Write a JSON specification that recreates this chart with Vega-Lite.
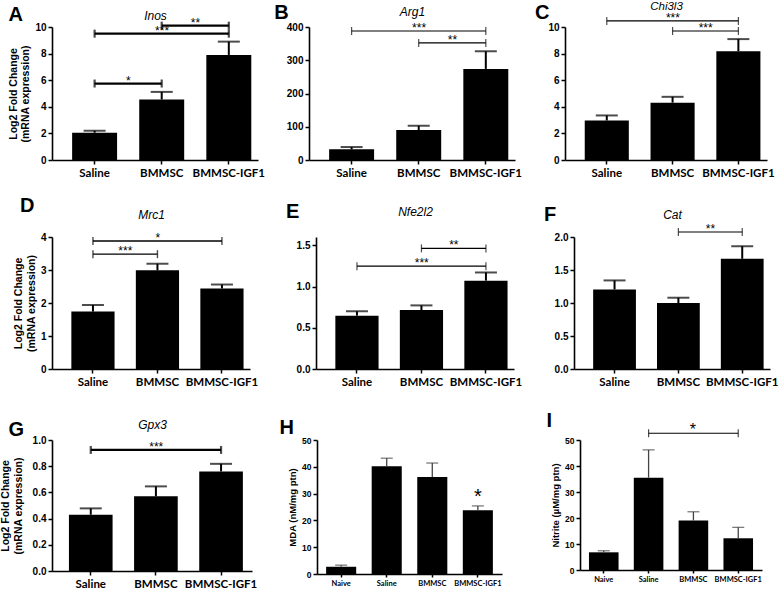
{
"$schema":"https://vega.github.io/schema/vega-lite/v6.json",
"background":"white",
"padding":{"left":0,"top":0,"right":0,"bottom":0},
"datasets":{
"bars":[
{"panel":"A","group":"Saline","mean":2.05,"upper":2.2},
{"panel":"A","group":"BMMSC","mean":4.55,"upper":5.12},
{"panel":"A","group":"BMMSC-IGF1","mean":7.9,"upper":8.9},
{"panel":"B","group":"Saline","mean":32,"upper":39},
{"panel":"B","group":"BMMSC","mean":90,"upper":103},
{"panel":"B","group":"BMMSC-IGF1","mean":274,"upper":327},
{"panel":"C","group":"Saline","mean":2.97,"upper":3.35},
{"panel":"C","group":"BMMSC","mean":4.31,"upper":4.75},
{"panel":"C","group":"BMMSC-IGF1","mean":8.17,"upper":9.09},
{"panel":"D","group":"Saline","mean":1.74,"upper":1.94},
{"panel":"D","group":"BMMSC","mean":2.99,"upper":3.19},
{"panel":"D","group":"BMMSC-IGF1","mean":2.44,"upper":2.56},
{"panel":"E","group":"Saline","mean":0.646,"upper":0.7},
{"panel":"E","group":"BMMSC","mean":0.714,"upper":0.771},
{"panel":"E","group":"BMMSC-IGF1","mean":1.071,"upper":1.17},
{"panel":"F","group":"Saline","mean":1.205,"upper":1.342},
{"panel":"F","group":"BMMSC","mean":1.0,"upper":1.08},
{"panel":"F","group":"BMMSC-IGF1","mean":1.67,"upper":1.86},
{"panel":"G","group":"Saline","mean":0.43,"upper":0.478},
{"panel":"G","group":"BMMSC","mean":0.57,"upper":0.646},
{"panel":"G","group":"BMMSC-IGF1","mean":0.76,"upper":0.818},
{"panel":"H","group":"Naive","mean":2.7,"upper":3.3},
{"panel":"H","group":"Saline","mean":40.2,"upper":43.2},
{"panel":"H","group":"BMMSC","mean":36.2,"upper":41.4},
{"panel":"H","group":"BMMSC-IGF1","mean":23.8,"upper":25.4,"sig":"*"},
{"panel":"I","group":"Naive","mean":6.8,"upper":7.4},
{"panel":"I","group":"Saline","mean":35.5,"upper":46.2},
{"panel":"I","group":"BMMSC","mean":19,"upper":22.4},
{"panel":"I","group":"BMMSC-IGF1","mean":12.2,"upper":16.4}
],
"brackets":[
{"panel":"A","from":"Saline","to":"BMMSC","y":5.75,"label":"*","span":1},
{"panel":"A","from":"Saline","to":"BMMSC-IGF1","y":9.5,"label":"***","span":2},
{"panel":"A","from":"BMMSC","to":"BMMSC-IGF1","y":10.1,"label":"**","span":1},
{"panel":"B","from":"Saline","to":"BMMSC-IGF1","y":388,"label":"***","span":2},
{"panel":"B","from":"BMMSC","to":"BMMSC-IGF1","y":352,"label":"**","span":1},
{"panel":"C","from":"Saline","to":"BMMSC-IGF1","y":10.46,"label":"***","span":2},
{"panel":"C","from":"BMMSC","to":"BMMSC-IGF1","y":9.7,"label":"***","span":1},
{"panel":"D","from":"Saline","to":"BMMSC-IGF1","y":3.88,"label":"*","span":2},
{"panel":"D","from":"Saline","to":"BMMSC","y":3.48,"label":"***","span":1},
{"panel":"E","from":"BMMSC","to":"BMMSC-IGF1","y":1.462,"label":"**","span":1},
{"panel":"E","from":"Saline","to":"BMMSC-IGF1","y":1.246,"label":"***","span":2},
{"panel":"F","from":"BMMSC","to":"BMMSC-IGF1","y":2.076,"label":"**","span":1},
{"panel":"G","from":"Saline","to":"BMMSC-IGF1","y":0.924,"label":"***","span":2},
{"panel":"I","from":"Saline","to":"BMMSC-IGF1","y":52.6,"label":"*","span":2}
]
},
"config":{
"view":{"stroke":null},
"axis":{"grid":false,"domainColor":"black","domainWidth":1.6,"tickColor":"black","tickWidth":1.5,"tickSize":4,"labelColor":"black","labelFont":"Liberation Sans","labelFontWeight":"bold","labelFontSize":10,"labelPadding":2,"titleFont":"Liberation Sans","titleFontWeight":"bold","titleFontSize":10.5,"titleColor":"black","titlePadding":4},
"axisX":{"labelAngle":0,"labelFont":"Lato","labelFontSize":11.5,"labelPadding":3},
"title":{"font":"Liberation Sans","fontWeight":"bold","fontSize":20,"anchor":"start","frame":"bounds","color":"black","offset":-14},
"text":{"font":"Liberation Sans","color":"black"}
},
"vconcat":[
{"hconcat":[
{"title":{"text":"A","offset":-16},"width":206,"height":133,"resolve":{"axis":{"x":"independent","y":"independent"}},
"layer":[
{"data":{"name":"bars"},"transform":[{"filter":"datum.panel==='A'"}],"mark":{"type":"bar","color":"black"},
"encoding":{"x":{"field":"group","type":"nominal","scale":{"domain":["Saline","BMMSC","BMMSC-IGF1"],"paddingInner":0.33,"paddingOuter":0.2,"align":0.75},"axis":{"title":null}},
"y":{"field":"mean","type":"quantitative","scale":{"domain":[0,10]},"axis":{"values":[0,2,4,6,8,10],"title":["Log2 Fold Change","(mRNA expression)"]}}}},
{"data":{"name":"bars"},"transform":[{"filter":"datum.panel==='A'"}],"mark":{"type":"rule","color":"black","strokeWidth":2},
"encoding":{"x":{"field":"group","type":"nominal","axis":{"orient":"top","title":"Inos","labels":false,"ticks":false,"domain":false,"titleFontStyle":"italic","titleFontWeight":"normal","titleFontSize":12,"titlePadding":5}},"y":{"field":"mean","type":"quantitative","axis":null},"y2":{"field":"upper"}}},
{"data":{"name":"bars"},"transform":[{"filter":"datum.panel==='A'"}],"mark":{"type":"tick","color":"black","orient":"horizontal","size":22,"thickness":2},
"encoding":{"x":{"field":"group","type":"nominal","axis":null},"y":{"field":"upper","type":"quantitative","axis":null}}},
{"data":{"name":"brackets"},"transform":[{"filter":"datum.panel==='A'"}],"mark":{"type":"rule","color":"black","strokeWidth":2.2},
"encoding":{"x":{"field":"from","type":"nominal","axis":null},"x2":{"field":"to"},"y":{"field":"y","type":"quantitative","axis":null}}},
{"data":{"name":"brackets"},"transform":[{"filter":"datum.panel==='A'"},{"fold":["from","to"],"as":["end","grp"]}],"mark":{"type":"tick","color":"black","orient":"vertical","size":8,"thickness":2.2},
"encoding":{"x":{"field":"grp","type":"nominal","axis":null},"y":{"field":"y","type":"quantitative","axis":null}}},
{"data":{"name":"brackets"},"transform":[{"filter":"datum.panel==='A' && datum.span===1"}],"mark":{"type":"text","baseline":"alphabetic","dy":1,"fontSize":12},
"encoding":{"x":{"field":"from","type":"nominal","bandPosition":1.25,"axis":null},"y":{"field":"y","type":"quantitative","axis":null},"text":{"field":"label"}}},
{"data":{"name":"brackets"},"transform":[{"filter":"datum.panel==='A' && datum.span===2"}],"mark":{"type":"text","baseline":"alphabetic","dy":1,"fontSize":12},
"encoding":{"x":{"field":"from","type":"nominal","bandPosition":2.0,"axis":null},"y":{"field":"y","type":"quantitative","axis":null},"text":{"field":"label"}}}
]},
{"hconcat":[
{"title":{"text":"B","offset":-18,"dx":-12},"width":206,"height":133,"resolve":{"axis":{"x":"independent","y":"independent"}},
"layer":[
{"data":{"name":"bars"},"transform":[{"filter":"datum.panel==='B'"}],"mark":{"type":"bar","color":"black"},
"encoding":{"x":{"field":"group","type":"nominal","scale":{"domain":["Saline","BMMSC","BMMSC-IGF1"],"paddingInner":0.33,"paddingOuter":0.2,"align":0.75},"axis":{"title":null}},
"y":{"field":"mean","type":"quantitative","scale":{"domain":[0,400]},"axis":{"values":[0,100,200,300,400],"title":null}}}},
{"data":{"name":"bars"},"transform":[{"filter":"datum.panel==='B'"}],"mark":{"type":"rule","color":"black","strokeWidth":2},
"encoding":{"x":{"field":"group","type":"nominal","axis":{"orient":"top","title":"Arg1","labels":false,"ticks":false,"domain":false,"titleFontStyle":"italic","titleFontWeight":"normal","titleFontSize":12,"titlePadding":9}},"y":{"field":"mean","type":"quantitative","axis":null},"y2":{"field":"upper"}}},
{"data":{"name":"bars"},"transform":[{"filter":"datum.panel==='B'"}],"mark":{"type":"tick","color":"black","orient":"horizontal","size":22,"thickness":2},
"encoding":{"x":{"field":"group","type":"nominal","axis":null},"y":{"field":"upper","type":"quantitative","axis":null}}},
{"data":{"name":"brackets"},"transform":[{"filter":"datum.panel==='B'"}],"mark":{"type":"rule","color":"black","strokeWidth":1.2},
"encoding":{"x":{"field":"from","type":"nominal","axis":null},"x2":{"field":"to"},"y":{"field":"y","type":"quantitative","axis":null}}},
{"data":{"name":"brackets"},"transform":[{"filter":"datum.panel==='B'"},{"fold":["from","to"],"as":["end","grp"]}],"mark":{"type":"tick","color":"black","orient":"vertical","size":8,"thickness":1.2},
"encoding":{"x":{"field":"grp","type":"nominal","axis":null},"y":{"field":"y","type":"quantitative","axis":null}}},
{"data":{"name":"brackets"},"transform":[{"filter":"datum.panel==='B' && datum.span===1"}],"mark":{"type":"text","baseline":"alphabetic","dy":1,"fontSize":12},
"encoding":{"x":{"field":"from","type":"nominal","bandPosition":1.25,"axis":null},"y":{"field":"y","type":"quantitative","axis":null},"text":{"field":"label"}}},
{"data":{"name":"brackets"},"transform":[{"filter":"datum.panel==='B' && datum.span===2"}],"mark":{"type":"text","baseline":"alphabetic","dy":1,"fontSize":12},
"encoding":{"x":{"field":"from","type":"nominal","bandPosition":2.0,"axis":null},"y":{"field":"y","type":"quantitative","axis":null},"text":{"field":"label"}}}
]},
{"title":{"text":"C","offset":-23,"dx":-13},"width":202,"height":133,"resolve":{"axis":{"x":"independent","y":"independent"}},
"layer":[
{"data":{"name":"bars"},"transform":[{"filter":"datum.panel==='C'"}],"mark":{"type":"bar","color":"black"},
"encoding":{"x":{"field":"group","type":"nominal","scale":{"domain":["Saline","BMMSC","BMMSC-IGF1"],"paddingInner":0.33,"paddingOuter":0.2,"align":0.75},"axis":{"title":null}},
"y":{"field":"mean","type":"quantitative","scale":{"domain":[0,10]},"axis":{"values":[0,2,4,6,8,10],"title":null}}}},
{"data":{"name":"bars"},"transform":[{"filter":"datum.panel==='C'"}],"mark":{"type":"rule","color":"black","strokeWidth":2},
"encoding":{"x":{"field":"group","type":"nominal","axis":{"orient":"top","title":"Chi3l3","labels":false,"ticks":false,"domain":false,"titleFontStyle":"italic","titleFontWeight":"normal","titleFontSize":11.5,"titlePadding":16}},"y":{"field":"mean","type":"quantitative","axis":null},"y2":{"field":"upper"}}},
{"data":{"name":"bars"},"transform":[{"filter":"datum.panel==='C'"}],"mark":{"type":"tick","color":"black","orient":"horizontal","size":22,"thickness":2},
"encoding":{"x":{"field":"group","type":"nominal","axis":null},"y":{"field":"upper","type":"quantitative","axis":null}}},
{"data":{"name":"brackets"},"transform":[{"filter":"datum.panel==='C'"}],"mark":{"type":"rule","color":"black","strokeWidth":1.2},
"encoding":{"x":{"field":"from","type":"nominal","axis":null},"x2":{"field":"to"},"y":{"field":"y","type":"quantitative","axis":null}}},
{"data":{"name":"brackets"},"transform":[{"filter":"datum.panel==='C'"},{"fold":["from","to"],"as":["end","grp"]}],"mark":{"type":"tick","color":"black","orient":"vertical","size":8,"thickness":1.2},
"encoding":{"x":{"field":"grp","type":"nominal","axis":null},"y":{"field":"y","type":"quantitative","axis":null}}},
{"data":{"name":"brackets"},"transform":[{"filter":"datum.panel==='C' && datum.span===1"}],"mark":{"type":"text","baseline":"alphabetic","dy":1,"fontSize":12},
"encoding":{"x":{"field":"from","type":"nominal","bandPosition":1.25,"axis":null},"y":{"field":"y","type":"quantitative","axis":null},"text":{"field":"label"}}},
{"data":{"name":"brackets"},"transform":[{"filter":"datum.panel==='C' && datum.span===2"}],"mark":{"type":"text","baseline":"alphabetic","dy":1,"fontSize":12},
"encoding":{"x":{"field":"from","type":"nominal","bandPosition":2.0,"axis":null},"y":{"field":"y","type":"quantitative","axis":null},"text":{"field":"label"}}}
]}
],"spacing":12}
],"spacing":9},
{"vconcat":[
{"hconcat":[
{"title":{"text":"D","offset":-8,"dx":6},"width":198,"height":132,"resolve":{"axis":{"x":"independent","y":"independent"}},
"layer":[
{"data":{"name":"bars"},"transform":[{"filter":"datum.panel==='D'"}],"mark":{"type":"bar","color":"black"},
"encoding":{"x":{"field":"group","type":"nominal","scale":{"domain":["Saline","BMMSC","BMMSC-IGF1"],"paddingInner":0.33,"paddingOuter":0.2,"align":0.75},"axis":{"title":null}},
"y":{"field":"mean","type":"quantitative","scale":{"domain":[0,4]},"axis":{"values":[0,1,2,3,4],"title":["Log2 Fold Change","(mRNA expression)"]}}}},
{"data":{"name":"bars"},"transform":[{"filter":"datum.panel==='D'"}],"mark":{"type":"rule","color":"black","strokeWidth":2},
"encoding":{"x":{"field":"group","type":"nominal","axis":{"orient":"top","title":"Mrc1","labels":false,"ticks":false,"domain":false,"titleFontStyle":"italic","titleFontWeight":"normal","titleFontSize":12,"titlePadding":16}},"y":{"field":"mean","type":"quantitative","axis":null},"y2":{"field":"upper"}}},
{"data":{"name":"bars"},"transform":[{"filter":"datum.panel==='D'"}],"mark":{"type":"tick","color":"black","orient":"horizontal","size":22,"thickness":2},
"encoding":{"x":{"field":"group","type":"nominal","axis":null},"y":{"field":"upper","type":"quantitative","axis":null}}},
{"data":{"name":"brackets"},"transform":[{"filter":"datum.panel==='D'"}],"mark":{"type":"rule","color":"black","strokeWidth":1.4},
"encoding":{"x":{"field":"from","type":"nominal","axis":null},"x2":{"field":"to"},"y":{"field":"y","type":"quantitative","axis":null}}},
{"data":{"name":"brackets"},"transform":[{"filter":"datum.panel==='D'"},{"fold":["from","to"],"as":["end","grp"]}],"mark":{"type":"tick","color":"black","orient":"vertical","size":8,"thickness":1.4},
"encoding":{"x":{"field":"grp","type":"nominal","axis":null},"y":{"field":"y","type":"quantitative","axis":null}}},
{"data":{"name":"brackets"},"transform":[{"filter":"datum.panel==='D' && datum.span===1"}],"mark":{"type":"text","baseline":"alphabetic","dy":1,"fontSize":12},
"encoding":{"x":{"field":"from","type":"nominal","bandPosition":1.25,"axis":null},"y":{"field":"y","type":"quantitative","axis":null},"text":{"field":"label"}}},
{"data":{"name":"brackets"},"transform":[{"filter":"datum.panel==='D' && datum.span===2"}],"mark":{"type":"text","baseline":"alphabetic","dy":1,"fontSize":12},
"encoding":{"x":{"field":"from","type":"nominal","bandPosition":2.0,"axis":null},"y":{"field":"y","type":"quantitative","axis":null},"text":{"field":"label"}}}
]},
{"hconcat":[
{"title":{"text":"E","offset":-17,"dx":-10},"width":198,"height":132,"resolve":{"axis":{"x":"independent","y":"independent"}},
"layer":[
{"data":{"name":"bars"},"transform":[{"filter":"datum.panel==='E'"}],"mark":{"type":"bar","color":"black"},
"encoding":{"x":{"field":"group","type":"nominal","scale":{"domain":["Saline","BMMSC","BMMSC-IGF1"],"paddingInner":0.33,"paddingOuter":0.2,"align":0.75},"axis":{"title":null}},
"y":{"field":"mean","type":"quantitative","scale":{"domain":[0,1.5]},"axis":{"values":[0,0.5,1,1.5],"format":".1f","title":null}}}},
{"data":{"name":"bars"},"transform":[{"filter":"datum.panel==='E'"}],"mark":{"type":"rule","color":"black","strokeWidth":2},
"encoding":{"x":{"field":"group","type":"nominal","axis":{"orient":"top","title":"Nfe2l2","labels":false,"ticks":false,"domain":false,"titleFontStyle":"italic","titleFontWeight":"normal","titleFontSize":12,"titlePadding":19}},"y":{"field":"mean","type":"quantitative","axis":null},"y2":{"field":"upper"}}},
{"data":{"name":"bars"},"transform":[{"filter":"datum.panel==='E'"}],"mark":{"type":"tick","color":"black","orient":"horizontal","size":22,"thickness":2},
"encoding":{"x":{"field":"group","type":"nominal","axis":null},"y":{"field":"upper","type":"quantitative","axis":null}}},
{"data":{"name":"brackets"},"transform":[{"filter":"datum.panel==='E'"}],"mark":{"type":"rule","color":"black","strokeWidth":1.2},
"encoding":{"x":{"field":"from","type":"nominal","axis":null},"x2":{"field":"to"},"y":{"field":"y","type":"quantitative","axis":null}}},
{"data":{"name":"brackets"},"transform":[{"filter":"datum.panel==='E'"},{"fold":["from","to"],"as":["end","grp"]}],"mark":{"type":"tick","color":"black","orient":"vertical","size":8,"thickness":1.2},
"encoding":{"x":{"field":"grp","type":"nominal","axis":null},"y":{"field":"y","type":"quantitative","axis":null}}},
{"data":{"name":"brackets"},"transform":[{"filter":"datum.panel==='E' && datum.span===1"}],"mark":{"type":"text","baseline":"alphabetic","dy":1,"fontSize":12},
"encoding":{"x":{"field":"from","type":"nominal","bandPosition":1.25,"axis":null},"y":{"field":"y","type":"quantitative","axis":null},"text":{"field":"label"}}},
{"data":{"name":"brackets"},"transform":[{"filter":"datum.panel==='E' && datum.span===2"}],"mark":{"type":"text","baseline":"alphabetic","dy":1,"fontSize":12},
"encoding":{"x":{"field":"from","type":"nominal","bandPosition":2.0,"axis":null},"y":{"field":"y","type":"quantitative","axis":null},"text":{"field":"label"}}}
]},
{"title":{"text":"F","offset":-17,"dx":-10},"width":196,"height":132,"resolve":{"axis":{"x":"independent","y":"independent"}},
"layer":[
{"data":{"name":"bars"},"transform":[{"filter":"datum.panel==='F'"}],"mark":{"type":"bar","color":"black"},
"encoding":{"x":{"field":"group","type":"nominal","scale":{"domain":["Saline","BMMSC","BMMSC-IGF1"],"paddingInner":0.33,"paddingOuter":0.2,"align":0.75},"axis":{"title":null}},
"y":{"field":"mean","type":"quantitative","scale":{"domain":[0,2]},"axis":{"values":[0,0.5,1,1.5,2],"format":".1f","title":null}}}},
{"data":{"name":"bars"},"transform":[{"filter":"datum.panel==='F'"}],"mark":{"type":"rule","color":"black","strokeWidth":2},
"encoding":{"x":{"field":"group","type":"nominal","axis":{"orient":"top","title":"Cat","labels":false,"ticks":false,"domain":false,"titleFontStyle":"italic","titleFontWeight":"normal","titleFontSize":12,"titlePadding":16}},"y":{"field":"mean","type":"quantitative","axis":null},"y2":{"field":"upper"}}},
{"data":{"name":"bars"},"transform":[{"filter":"datum.panel==='F'"}],"mark":{"type":"tick","color":"black","orient":"horizontal","size":22,"thickness":2},
"encoding":{"x":{"field":"group","type":"nominal","axis":null},"y":{"field":"upper","type":"quantitative","axis":null}}},
{"data":{"name":"brackets"},"transform":[{"filter":"datum.panel==='F'"}],"mark":{"type":"rule","color":"black","strokeWidth":1.2},
"encoding":{"x":{"field":"from","type":"nominal","axis":null},"x2":{"field":"to"},"y":{"field":"y","type":"quantitative","axis":null}}},
{"data":{"name":"brackets"},"transform":[{"filter":"datum.panel==='F'"},{"fold":["from","to"],"as":["end","grp"]}],"mark":{"type":"tick","color":"black","orient":"vertical","size":8,"thickness":1.2},
"encoding":{"x":{"field":"grp","type":"nominal","axis":null},"y":{"field":"y","type":"quantitative","axis":null}}},
{"data":{"name":"brackets"},"transform":[{"filter":"datum.panel==='F' && datum.span===1"}],"mark":{"type":"text","baseline":"alphabetic","dy":1,"fontSize":12},
"encoding":{"x":{"field":"from","type":"nominal","bandPosition":1.25,"axis":null},"y":{"field":"y","type":"quantitative","axis":null},"text":{"field":"label"}}}
]}
],"spacing":22}
],"spacing":28},
{"hconcat":[
{"title":{"text":"G","offset":-22,"dx":8},"width":200,"height":131,"resolve":{"axis":{"x":"independent","y":"independent"}},
"layer":[
{"data":{"name":"bars"},"transform":[{"filter":"datum.panel==='G'"}],"mark":{"type":"bar","color":"black"},
"encoding":{"x":{"field":"group","type":"nominal","scale":{"domain":["Saline","BMMSC","BMMSC-IGF1"],"paddingInner":0.33,"paddingOuter":0.2,"align":0.65},"axis":{"title":null}},
"y":{"field":"mean","type":"quantitative","scale":{"domain":[0,1]},"axis":{"values":[0,0.2,0.4,0.6,0.8,1],"format":".1f","titlePadding":9,"title":["Log2 Fold Change","(mRNA expression)"]}}}},
{"data":{"name":"bars"},"transform":[{"filter":"datum.panel==='G'"}],"mark":{"type":"rule","color":"black","strokeWidth":2},
"encoding":{"x":{"field":"group","type":"nominal","axis":{"orient":"top","title":"Gpx3","labels":false,"ticks":false,"domain":false,"titleFontStyle":"italic","titleFontWeight":"normal","titleFontSize":12,"titlePadding":9}},"y":{"field":"mean","type":"quantitative","axis":null},"y2":{"field":"upper"}}},
{"data":{"name":"bars"},"transform":[{"filter":"datum.panel==='G'"}],"mark":{"type":"tick","color":"black","orient":"horizontal","size":22,"thickness":2},
"encoding":{"x":{"field":"group","type":"nominal","axis":null},"y":{"field":"upper","type":"quantitative","axis":null}}},
{"data":{"name":"brackets"},"transform":[{"filter":"datum.panel==='G'"}],"mark":{"type":"rule","color":"black","strokeWidth":2.2},
"encoding":{"x":{"field":"from","type":"nominal","axis":null},"x2":{"field":"to"},"y":{"field":"y","type":"quantitative","axis":null}}},
{"data":{"name":"brackets"},"transform":[{"filter":"datum.panel==='G'"},{"fold":["from","to"],"as":["end","grp"]}],"mark":{"type":"tick","color":"black","orient":"vertical","size":8,"thickness":2.2},
"encoding":{"x":{"field":"grp","type":"nominal","axis":null},"y":{"field":"y","type":"quantitative","axis":null}}},
{"data":{"name":"brackets"},"transform":[{"filter":"datum.panel==='G' && datum.span===2"}],"mark":{"type":"text","baseline":"alphabetic","dy":1,"fontSize":12},
"encoding":{"x":{"field":"from","type":"nominal","bandPosition":2.0,"axis":null},"y":{"field":"y","type":"quantitative","axis":null},"text":{"field":"label"}}}
]},
{"hconcat":[
{"title":{"text":"H","offset":-2,"dx":-8},"width":185,"height":134,"resolve":{"axis":{"x":"independent","y":"independent"}},
"layer":[
{"data":{"name":"bars"},"transform":[{"filter":"datum.panel==='H'"}],"mark":{"type":"bar","color":"black"},
"encoding":{"x":{"field":"group","type":"nominal","scale":{"domain":["Naive","Saline","BMMSC","BMMSC-IGF1"],"paddingInner":0.34,"paddingOuter":0.2},"axis":{"title":null,"labelFontSize":7.5,"labelPadding":2,"tickSize":3}},
"y":{"field":"mean","type":"quantitative","scale":{"domain":[0,50]},"axis":{"values":[0,10,20,30,40,50],"labelFontSize":8.5,"titleFontSize":9.5,"title":"MDA (nM/mg ptn)"}}}},
{"data":{"name":"bars"},"transform":[{"filter":"datum.panel==='H'"}],"mark":{"type":"rule","color":"#444","strokeWidth":1.3},
"encoding":{"x":{"field":"group","type":"nominal","axis":null},"y":{"field":"mean","type":"quantitative","axis":null},"y2":{"field":"upper"}}},
{"data":{"name":"bars"},"transform":[{"filter":"datum.panel==='H'"}],"mark":{"type":"tick","color":"#444","orient":"horizontal","size":12,"thickness":1.3},
"encoding":{"x":{"field":"group","type":"nominal","axis":null},"y":{"field":"upper","type":"quantitative","axis":null}}},
{"data":{"name":"bars"},"transform":[{"filter":"datum.panel==='H' && isValid(datum.sig)"}],"mark":{"type":"text","baseline":"alphabetic","dy":-3,"fontSize":20},
"encoding":{"x":{"field":"group","type":"nominal","axis":null},"y":{"field":"upper","type":"quantitative","axis":null},"text":{"field":"sig"}}}
]},
{"title":{"text":"I","offset":-9,"dx":-4},"width":182,"height":130,"resolve":{"axis":{"x":"independent","y":"independent"}},
"layer":[
{"data":{"name":"bars"},"transform":[{"filter":"datum.panel==='I'"}],"mark":{"type":"bar","color":"black"},
"encoding":{"x":{"field":"group","type":"nominal","scale":{"domain":["Naive","Saline","BMMSC","BMMSC-IGF1"],"paddingInner":0.34,"paddingOuter":0.2},"axis":{"title":null,"labelFontSize":7.5,"labelPadding":2,"tickSize":3}},
"y":{"field":"mean","type":"quantitative","scale":{"domain":[0,50]},"axis":{"values":[0,10,20,30,40,50],"labelFontSize":8.5,"titleFontSize":9.5,"title":"Nitrite (µM/mg ptn)"}}}},
{"data":{"name":"bars"},"transform":[{"filter":"datum.panel==='I'"}],"mark":{"type":"rule","color":"#444","strokeWidth":1.3},
"encoding":{"x":{"field":"group","type":"nominal","axis":null},"y":{"field":"mean","type":"quantitative","axis":null},"y2":{"field":"upper"}}},
{"data":{"name":"bars"},"transform":[{"filter":"datum.panel==='I'"}],"mark":{"type":"tick","color":"#444","orient":"horizontal","size":12,"thickness":1.3},
"encoding":{"x":{"field":"group","type":"nominal","axis":null},"y":{"field":"upper","type":"quantitative","axis":null}}},
{"data":{"name":"brackets"},"transform":[{"filter":"datum.panel==='I'"}],"mark":{"type":"rule","color":"black","strokeWidth":1.2},
"encoding":{"x":{"field":"from","type":"nominal","axis":null},"x2":{"field":"to"},"y":{"field":"y","type":"quantitative","axis":null}}},
{"data":{"name":"brackets"},"transform":[{"filter":"datum.panel==='I'"},{"fold":["from","to"],"as":["end","grp"]}],"mark":{"type":"tick","color":"black","orient":"vertical","size":8,"thickness":1.2},
"encoding":{"x":{"field":"grp","type":"nominal","axis":null},"y":{"field":"y","type":"quantitative","axis":null}}},
{"data":{"name":"brackets"},"transform":[{"filter":"datum.panel==='I' && datum.span===2"}],"mark":{"type":"text","baseline":"alphabetic","dy":2,"fontSize":16},
"encoding":{"x":{"field":"from","type":"nominal","bandPosition":2.0,"axis":null},"y":{"field":"y","type":"quantitative","axis":null},"text":{"field":"label"}}}
]}
],"spacing":44}
],"spacing":22}
],"spacing":23}
],"spacing":17
}
